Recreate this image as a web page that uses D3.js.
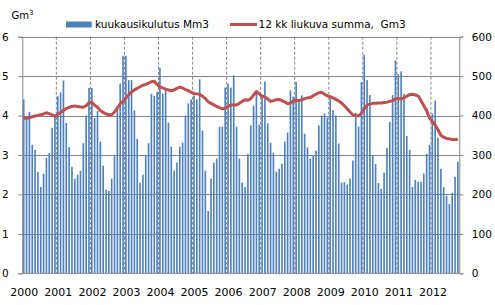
<!DOCTYPE html>
<html>
<head>
<meta charset="utf-8">
<script src="https://cdn.jsdelivr.net/npm/d3@7/dist/d3.min.js"></script>
<style>
body { margin: 0; background: #fff; }
svg { display: block; font-family: "DejaVu Sans", Verdana, sans-serif; }
</style>
</head>
<body>
<div id="chart"></div>
<script>
// year labels on the x axis
var years = ["2000", "2001", "2002", "2003", "2004", "2005", "2006",
             "2007", "2008", "2009", "2010", "2011", "2012"];

// monthly consumption, Mm3 (Jan 2000 .. Oct 2012)
var monthly = [
  441, 398, 409, 326, 313, 257, 219, 252, 293, 305, 369, 400,
  449, 459, 489, 381, 320, 270, 240, 250, 260, 330, 400, 470,
  470, 394, 412, 334, 273, 212, 209, 240, 299, 422, 481, 552,
  552, 490, 490, 413, 341, 230, 250, 299, 330, 455, 450, 460,
  521, 456, 465, 382, 321, 260, 281, 321, 331, 400, 431, 441,
  451, 441, 492, 362, 260, 158, 240, 281, 291, 372, 372, 471,
  481, 471, 502, 372, 291, 230, 219, 303, 375, 425, 456, 377,
  451, 486, 380, 331, 306, 258, 265, 278, 334, 357, 464, 448,
  485, 441, 451, 354, 319, 291, 298, 311, 375, 400, 405, 395,
  445, 414, 400, 329, 230, 231, 225, 240, 286, 407, 372, 485,
  554, 490, 452, 298, 277, 229, 214, 255, 318, 384, 452, 540,
  505, 512, 455, 348, 313, 219, 237, 232, 232, 253, 303, 326,
  405, 438, 344, 265, 219, 197, 176, 204, 245, 283
];

// 12 month moving sum, Gm3
var rolling = [
  3.93, 3.93, 3.95, 3.97, 3.99, 4.00, 4.02, 4.04, 4.07, 4.05, 4.02, 3.98,
  4.03, 4.08, 4.13, 4.18, 4.21, 4.23, 4.24, 4.23, 4.22, 4.21, 4.25, 4.33,
  4.34, 4.26, 4.21, 4.13, 4.08, 4.04, 4.02, 4.02, 4.09, 4.19, 4.30, 4.36,
  4.44, 4.53, 4.60, 4.65, 4.69, 4.73, 4.77, 4.79, 4.82, 4.86, 4.87, 4.79,
  4.73, 4.70, 4.67, 4.65, 4.63, 4.65, 4.69, 4.72, 4.70, 4.66, 4.63, 4.59,
  4.56, 4.55, 4.54, 4.49, 4.43, 4.35, 4.31, 4.27, 4.23, 4.20, 4.17, 4.19,
  4.23, 4.27, 4.27, 4.27, 4.31, 4.36, 4.40, 4.39, 4.43, 4.52, 4.61, 4.55,
  4.49, 4.47, 4.42, 4.36, 4.38, 4.40, 4.41, 4.38, 4.35, 4.30, 4.32, 4.37,
  4.39, 4.38, 4.40, 4.43, 4.45, 4.45, 4.50, 4.54, 4.58, 4.59, 4.54, 4.50,
  4.48, 4.45, 4.41, 4.37, 4.32, 4.25, 4.17, 4.09, 4.02, 4.00, 3.99, 4.06,
  4.17, 4.27, 4.29, 4.31, 4.31, 4.32, 4.32, 4.33, 4.34, 4.36, 4.38, 4.42,
  4.43, 4.42, 4.45, 4.49, 4.53, 4.54, 4.52, 4.50, 4.38, 4.25, 4.12, 3.94,
  3.85, 3.76, 3.64, 3.50, 3.45, 3.42, 3.41, 3.39, 3.39, 3.40
];

var leftTicks = [0, 1, 2, 3, 4, 5, 6];
var rightTicks = [0, 100, 200, 300, 400, 500, 600];

var width = 495, height = 305;
var x0 = 22.3, x1 = 459.3, yTop = 36.7, yBot = 273.3;
var gridColor = "#868686";

var svg = d3.select("#chart").append("svg")
  .attr("width", width)
  .attr("height", height);

var x = d3.scaleBand()
  .domain(d3.range(monthly.length))
  .range([x0, x1])
  .paddingInner(0.42)
  .paddingOuter(0.21);

// continuous month scale for year boundaries
var xm = d3.scaleLinear().domain([0, monthly.length]).range([x0, x1]);

var yL = d3.scaleLinear().domain([0, 6]).range([yBot, yTop]);
var yR = d3.scaleLinear().domain([0, 600]).range([yBot, yTop]);

// horizontal gridlines
svg.append("g").selectAll("line")
  .data(leftTicks.slice(1))
  .enter().append("line")
  .attr("x1", x0).attr("x2", x1)
  .attr("y1", function(d) { return Math.round(yL(d)) + 0.5; })
  .attr("y2", function(d) { return Math.round(yL(d)) + 0.5; })
  .attr("stroke", gridColor);

// dashed year gridlines
svg.append("g").selectAll("line")
  .data(years.slice(1))
  .enter().append("line")
  .attr("x1", function(d, i) { return xm((i + 1) * 12); })
  .attr("x2", function(d, i) { return xm((i + 1) * 12); })
  .attr("y1", yTop).attr("y2", yBot)
  .attr("stroke", gridColor)
  .attr("stroke-dasharray", "3,2");

// bars
svg.append("g").selectAll("rect")
  .data(monthly)
  .enter().append("rect")
  .attr("x", function(d, i) { return x(i); })
  .attr("width", x.bandwidth())
  .attr("y", function(d) { return yR(d); })
  .attr("height", function(d) { return yBot - yR(d); })
  .attr("fill", "#4F81BD");

// moving sum line
var line = d3.line()
  .x(function(d, i) { return x(i) + x.bandwidth() / 2; })
  .y(function(d) { return yL(d); });

svg.append("path")
  .datum(rolling)
  .attr("d", line)
  .attr("fill", "none")
  .attr("stroke", "#C0504D")
  .attr("stroke-width", 3)
  .attr("stroke-linejoin", "round");

// axes
var leftAxis = svg.append("g")
  .attr("transform", "translate(" + x0 + ",0)")
  .call(d3.axisLeft(yL).tickValues(leftTicks).tickFormat(d3.format("d"))
    .tickSize(4).tickPadding(9.5));

var rightAxis = svg.append("g")
  .attr("transform", "translate(" + x1 + ",0)")
  .call(d3.axisRight(yR).tickValues(rightTicks).tickFormat(d3.format("d"))
    .tickSize(4).tickPadding(8.5));

[leftAxis, rightAxis].forEach(function(g) {
  g.select(".domain").attr("stroke", gridColor);
  g.selectAll(".tick line").attr("stroke", gridColor);
  g.selectAll("text")
    .attr("fill", "#000")
    .style("font-size", "10.5px")
    .style("font-family", "'DejaVu Sans', Verdana, sans-serif");
});

// base line at zero
svg.append("line")
  .attr("x1", x0).attr("x2", x1)
  .attr("y1", yBot).attr("y2", yBot)
  .attr("stroke", gridColor);

// year labels
svg.append("g").selectAll("text")
  .data(years)
  .enter().append("text")
  .attr("x", function(d, i) { return xm(i * 12) + 2; })
  .attr("y", 296)
  .attr("text-anchor", "middle")
  .style("font-size", "11px")
  .text(function(d) { return d; });

// unit label
var unit = svg.append("text")
  .attr("x", 11.5).attr("y", 19)
  .style("font-size", "10px")
  .text("Gm");
unit.append("tspan")
  .attr("dy", -4)
  .style("font-size", "7px")
  .text("3");

// legend
var legend = svg.append("g");
legend.append("rect")
  .attr("x", 66).attr("y", 21.5)
  .attr("width", 25.7).attr("height", 6)
  .attr("fill", "#4F81BD");
legend.append("text")
  .attr("x", 95).attr("y", 28.3)
  .style("font-size", "10.5px")
  .text("kuukausikulutus Mm3");
legend.append("line")
  .attr("x1", 230).attr("x2", 257)
  .attr("y1", 24.5).attr("y2", 24.5)
  .attr("stroke", "#C0504D")
  .attr("stroke-width", 3);
legend.append("text")
  .attr("x", 258.5).attr("y", 28.3)
  .style("font-size", "10.5px")
  .style("white-space", "pre")
  .text("12 kk liukuva summa,  Gm3");
</script>
</body>
</html>
